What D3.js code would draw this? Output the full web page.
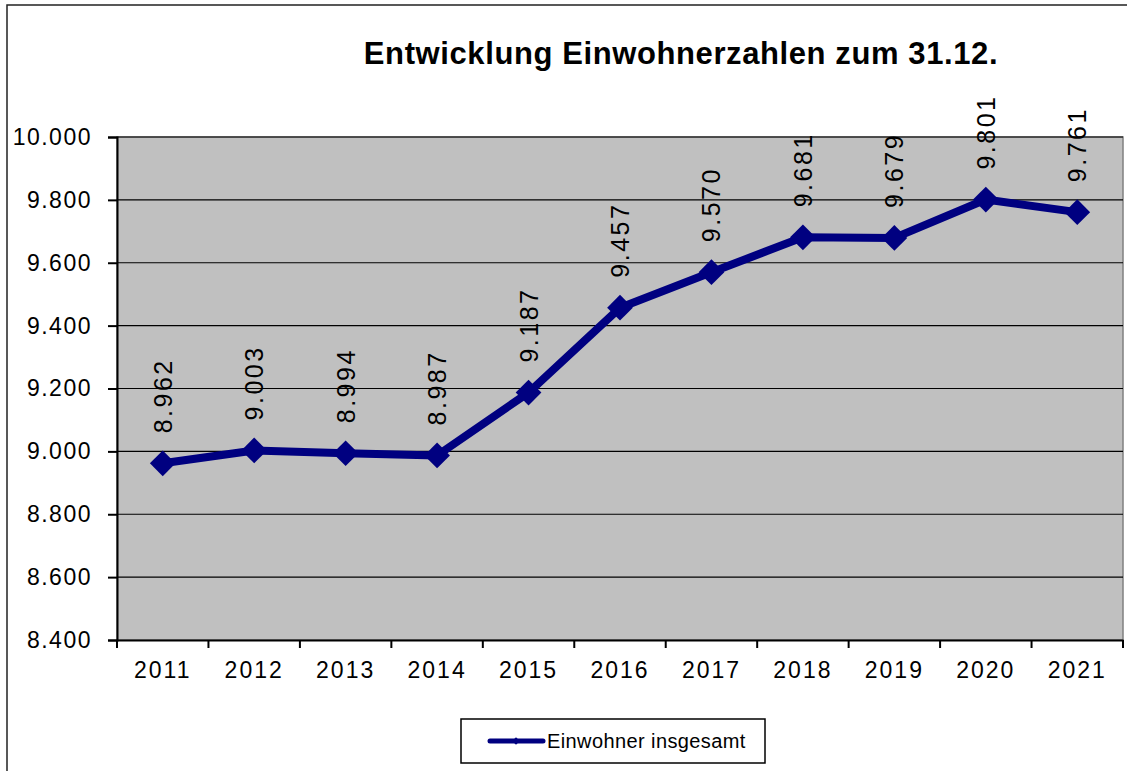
<!DOCTYPE html>
<html lang="de">
<head>
<meta charset="UTF-8">
<title>Entwicklung Einwohnerzahlen</title>
<script src="https://cdn.jsdelivr.net/npm/d3@7"></script>
<style>
  body { margin: 0; background: #fff; }
  svg { display: block; font-family: Arial, "Liberation Sans", sans-serif; }
</style>
</head>
<body>
<div id="chart"></div>
<script>
// values
const years = ["2011", "2012", "2013", "2014", "2015", "2016", "2017", "2018", "2019", "2020", "2021"];
const einwohner = [8962, 9003, 8994, 8987, 9187, 9457, 9570, 9681, 9679, 9801, 9761];
const yTicks = [8400, 8600, 8800, 9000, 9200, 9400, 9600, 9800, 10000];
const title = "Entwicklung Einwohnerzahlen zum 31.12.";
const seriesName = "Einwohner insgesamt";

const width = 1127, height = 771;
const margin = {top: 137, right: 4, bottom: 131, left: 117};

const de = d3.formatLocale({decimal: ",", thousands: ".", grouping: [3], currency: ["", " €"]});
const fmt = de.format(",.0f");

const svg = d3.select("#chart").append("svg")
    .attr("width", width)
    .attr("height", height);

// outer frame
svg.append("rect")
    .attr("x", 7).attr("y", 5)
    .attr("width", width + 20).attr("height", height + 20)
    .attr("fill", "none")
    .attr("stroke", "#222")
    .attr("stroke-width", 1.5);

const x = d3.scaleBand()
    .domain(years)
    .range([margin.left, width - margin.right]);

const y = d3.scaleLinear()
    .domain([8400, 10000])
    .range([height - margin.bottom, margin.top]);

// plot background
svg.append("rect")
    .attr("x", margin.left).attr("y", margin.top)
    .attr("width", width - margin.right - margin.left)
    .attr("height", height - margin.bottom - margin.top)
    .attr("fill", "#c0c0c0")
    .attr("stroke", "#808080")
    .attr("stroke-width", 1.5);

// gridlines
svg.append("g")
    .selectAll("line")
    .data(yTicks.slice(1))
    .join("line")
    .attr("x1", margin.left).attr("x2", width - margin.right)
    .attr("y1", d => y(d)).attr("y2", d => y(d))
    .attr("stroke", "#000")
    .attr("stroke-width", 1.2);

// y axis
const yAxis = svg.append("g")
    .attr("transform", `translate(${margin.left},0)`)
    .call(d3.axisLeft(y).tickValues(yTicks).tickFormat(fmt).tickSize(9).tickPadding(16));
yAxis.select(".domain").attr("stroke", "#000").attr("stroke-width", 2);
yAxis.selectAll(".tick line").attr("stroke", "#000").attr("stroke-width", 2);
yAxis.selectAll("text")
    .attr("font-size", 23)
    .attr("letter-spacing", 1.5)
    .attr("fill", "#000");

// x axis, ticks between categories
const xAxis = svg.append("g")
    .attr("transform", `translate(0,${height - margin.bottom})`)
    .call(d3.axisBottom(x).tickSize(0).tickPadding(22));
xAxis.select(".domain").attr("stroke", "#000").attr("stroke-width", 2);
xAxis.selectAll("text")
    .attr("font-size", 23)
    .attr("letter-spacing", 2)
    .attr("fill", "#000");
xAxis.selectAll(".sep")
    .data(years.concat(["end"]))
    .join("line")
    .attr("class", "sep")
    .attr("x1", (d, i) => i < years.length ? x(d) : x(years[years.length - 1]) + x.bandwidth())
    .attr("x2", (d, i) => i < years.length ? x(d) : x(years[years.length - 1]) + x.bandwidth())
    .attr("y1", 0).attr("y2", 8)
    .attr("stroke", "#000")
    .attr("stroke-width", 2);

const cx = d => x(d) + x.bandwidth() / 2;
const pts = years.map((yr, i) => ({year: yr, value: einwohner[i]}));

// line
svg.append("path")
    .datum(pts)
    .attr("fill", "none")
    .attr("stroke", "#000080")
    .attr("stroke-width", 8)
    .attr("stroke-linejoin", "round")
    .attr("d", d3.line().x(d => cx(d.year)).y(d => y(d.value)));

// diamond markers
const diamond = d3.symbol().type(d3.symbolSquare).size(330);
svg.append("g")
    .selectAll("path")
    .data(pts)
    .join("path")
    .attr("transform", d => `translate(${cx(d.year)},${y(d.value)}) rotate(45)`)
    .attr("d", diamond)
    .attr("fill", "#000080");

// data labels, rotated
svg.append("g")
    .selectAll("text")
    .data(pts)
    .join("text")
    .attr("transform", d => `translate(${cx(d.year) + 9},${y(d.value) - 30}) rotate(-90)`)
    .attr("font-size", 25)
    .attr("letter-spacing", 2.5)
    .attr("fill", "#000")
    .text(d => fmt(d.value));

// title
svg.append("text")
    .attr("x", 681).attr("y", 64)
    .attr("text-anchor", "middle")
    .attr("font-size", 31)
    .attr("letter-spacing", 0.6)
    .attr("font-weight", "bold")
    .attr("fill", "#000")
    .text(title);

// legend
const lg = svg.append("g");
lg.append("rect")
    .attr("x", 461).attr("y", 719)
    .attr("width", 304).attr("height", 44)
    .attr("fill", "#fff")
    .attr("stroke", "#000")
    .attr("stroke-width", 1.5);
lg.append("line")
    .attr("x1", 490).attr("x2", 543)
    .attr("y1", 741).attr("y2", 741)
    .attr("stroke", "#000080")
    .attr("stroke-width", 5)
    .attr("stroke-linecap", "round");
lg.append("path")
    .attr("transform", "translate(516,741) rotate(45)")
    .attr("d", d3.symbol().type(d3.symbolSquare).size(30))
    .attr("fill", "#000080");
lg.append("text")
    .attr("x", 547).attr("y", 748)
    .attr("font-size", 20)
    .attr("letter-spacing", 0.4)
    .attr("fill", "#000")
    .text(seriesName);
</script>
</body>
</html>
